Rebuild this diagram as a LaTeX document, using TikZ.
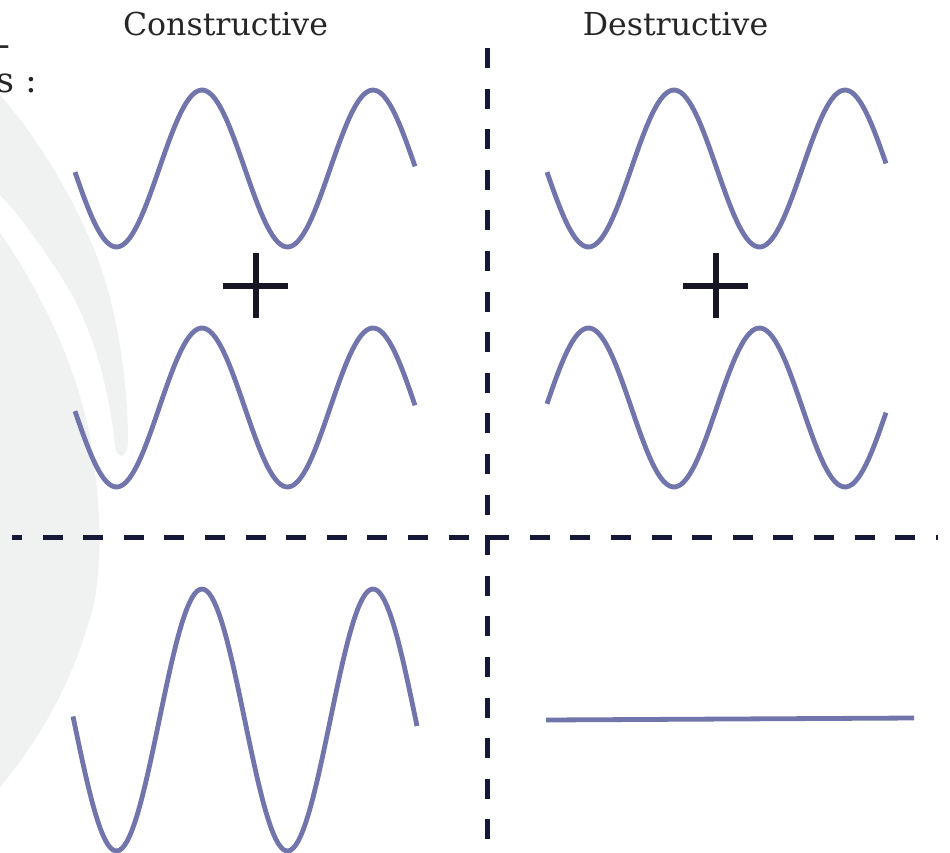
\documentclass[tikz,border=0pt]{standalone}
\usepackage{fontspec}
\setmainfont{DejaVu Serif}
\definecolor{wavecol}{RGB}{113,117,172}
\definecolor{dashcol}{RGB}{22,24,56}
\definecolor{pluscol}{RGB}{22,22,36}
\definecolor{wmgrey}{RGB}{240,241,241}
\begin{document}
\begin{tikzpicture}[x=1pt,y=-1pt,
  wave/.style={draw=wavecol,line width=4.8pt,line cap=butt},
  divider/.style={draw=dashcol,line width=5pt,dash pattern=on 20pt off 20.6pt},
  plusbar/.style={draw=pluscol,line width=6pt},
  title/.style={font=\fontsize{31.6}{37}\selectfont,text=black!85,inner sep=0pt,anchor=base},
  cut/.style={font=\fontsize{35}{40}\selectfont,text=black!85,inner sep=0pt,anchor=base east}]
\useasboundingbox[fill=white] (0,0) rectangle (950,852);
% watermark shapes
\fill[wmgrey] (0,95) .. controls (40,140) and (85,215) .. (105,280)
  .. controls (120,330) and (128,390) .. (128,440)
  .. controls (128,460) and (116,460) .. (115,445)
  .. controls (108,380) and (90,320) .. (60,275)
  .. controls (40,245) and (20,215) .. (0,195) -- cycle;
\fill[wmgrey] (0,233) .. controls (40,290) and (80,370) .. (92,450)
  .. controls (103,520) and (102,590) .. (87,627)
  .. controls (72,680) and (40,740) .. (0,787) -- cycle;
% texts
\node[title] (tc) at (225.5,35) {Constructive};
\node[title] (td) at (675.5,35) {Destructive};
\node[cut] (c1) at (11,56) {-};
\node[cut] (c2) at (38,92) {s :};
% dividers
\coordinate (vt) at (487,48);
\coordinate (vb) at (487,845);
\coordinate (hl) at (12,537);
\coordinate (hr) at (938,537);
\draw[divider] (vt) -- (vb);
\draw[divider,dash phase=10pt] (hl) -- (hr);
% plus signs
\draw[plusbar] (223,286) -- (288,286);
\draw[plusbar] (255.5,253) -- (255.5,318);
\draw[plusbar] (683,286) -- (748,286);
\draw[plusbar] (715.5,253) -- (715.5,318);
% waves
\draw[wave] plot[domain=75:415,samples=120] (\x,{168.5-78.5*cos(2.10526*(\x-202))});
\draw[wave] plot[domain=75:415,samples=120] (\x,{407.5-79.5*cos(2.10526*(\x-202))});
\draw[wave] plot[domain=73:417,samples=140] (\x,{720-131*cos(2.10526*(\x-202))});
\draw[wave] plot[domain=547:886,samples=120] (\x,{168.5-78.5*cos(2.10526*(\x-674))});
\draw[wave] plot[domain=547:886,samples=120] (\x,{407.5+79.5*cos(2.10526*(\x-674))});
\coordinate (fa) at (546,720);
\coordinate (fb) at (914,718);
\draw[wave] (fa) -- (fb);
\end{tikzpicture}
\end{document}
